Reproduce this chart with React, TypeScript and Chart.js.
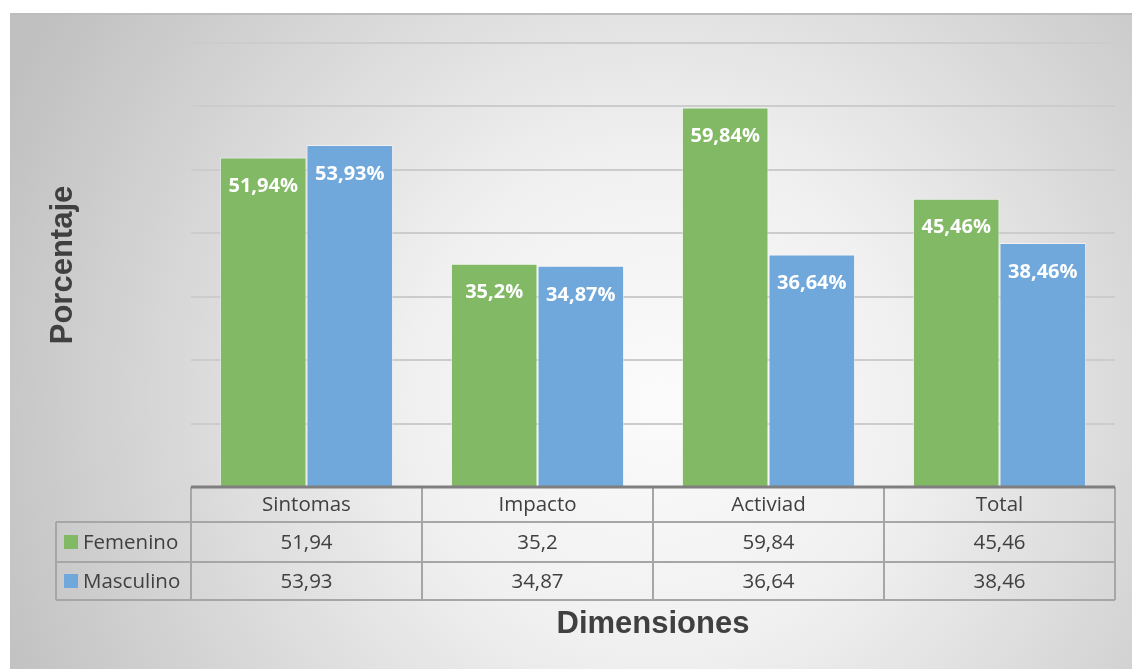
import React, { useEffect, useRef } from "react";
import { Chart, registerables } from "chart.js";

Chart.register(...registerables);

const categories = ["Sintomas", "Impacto", "Activiad", "Total"];
const femenino = [51.94, 35.2, 59.84, 45.46];
const masculino = [53.93, 34.87, 36.64, 38.46];
const seriesNames = ["Femenino", "Masculino"];
const tableFemenino = ["51,94", "35,2", "59,84", "45,46"];
const tableMasculino = ["53,93", "34,87", "36,64", "38,46"];
const labelFemenino = ["51,94%", "35,2%", "59,84%", "45,46%"];
const labelMasculino = ["53,93%", "34,87%", "36,64%", "38,46%"];

const GREEN = "#82b964";
const BLUE = "#70a8db";

export default function App() {
  const ref = useRef<HTMLCanvasElement | null>(null);

  useEffect(() => {
    const canvas = ref.current;
    if (!canvas) return;

    const bgPlugin = {
      id: "bg",
      beforeDraw(chart: any) {
        const ctx = chart.ctx;
        const w = chart.width;
        const h = chart.height;
        ctx.save();
        ctx.fillStyle = "#ffffff";
        ctx.fillRect(0, 0, w, h);
        const g = ctx.createRadialGradient(660, 400, 0, 660, 400, 720);
        g.addColorStop(0, "#fbfbfb");
        g.addColorStop(0.35, "#f0f0f0");
        g.addColorStop(1, "#c0c0c0");
        ctx.fillStyle = g;
        ctx.fillRect(10, 13, w - 10, h - 13);
        ctx.strokeStyle = "#bdbdbd";
        ctx.lineWidth = 2;
        ctx.beginPath();
        ctx.moveTo(10, 14);
        ctx.lineTo(w, 14);
        ctx.stroke();
        ctx.restore();
      },
    };

    const labelsPlugin = {
      id: "barLabels",
      afterDatasetsDraw(chart: any) {
        const ctx = chart.ctx;
        ctx.save();
        ctx.fillStyle = "#ffffff";
        ctx.font = "bold 20px 'Open Sans'";
        ctx.textAlign = "center";
        ctx.textBaseline = "middle";
        const lbls = [labelFemenino, labelMasculino];
        chart.data.datasets.forEach((_: any, di: number) => {
          const meta = chart.getDatasetMeta(di);
          meta.data.forEach((el: any, i: number) => {
            ctx.fillText(lbls[di][i], el.x, el.y + 29);
          });
        });
        ctx.restore();
      },
    };

    const tablePlugin = {
      id: "dataTable",
      afterDraw(chart: any) {
        const ctx = chart.ctx;
        const xs = chart.scales.x;
        const area = chart.chartArea;
        const n = categories.length;
        const catW = (area.right - area.left) / n;
        const top = area.bottom;
        const r1 = top + 35;
        const r2 = r1 + 40;
        const r3 = r2 + 38;
        const leftX = 56;
        ctx.save();
        ctx.strokeStyle = "#a6a6a6";
        ctx.lineWidth = 2;
        ctx.beginPath();
        ctx.moveTo(leftX, r1);
        ctx.lineTo(area.right, r1);
        ctx.moveTo(leftX, r2);
        ctx.lineTo(area.right, r2);
        ctx.moveTo(leftX, r3);
        ctx.lineTo(area.right, r3);
        for (let i = 0; i <= n; i++) {
          const x = area.left + i * catW;
          ctx.moveTo(x, top);
          ctx.lineTo(x, r3);
        }
        ctx.moveTo(leftX, r1);
        ctx.lineTo(leftX, r3);
        ctx.stroke();
        ctx.strokeStyle = "#7f7f7f";
        ctx.lineWidth = 3;
        ctx.beginPath();
        ctx.moveTo(area.left, top);
        ctx.lineTo(area.right, top);
        ctx.stroke();

        ctx.fillStyle = "#404040";
        ctx.font = "20.5px 'Open Sans'";
        ctx.textAlign = "center";
        ctx.textBaseline = "middle";
        for (let i = 0; i < n; i++) {
          const cx = xs.getPixelForValue(i);
          ctx.fillText(categories[i], cx, (top + r1) / 2 + 1);
          ctx.fillText(tableFemenino[i], cx, (r1 + r2) / 2 + 1);
          ctx.fillText(tableMasculino[i], cx, (r2 + r3) / 2 + 1);
        }
        ctx.textAlign = "left";
        const rows = [
          [seriesNames[0], GREEN, (r1 + r2) / 2],
          [seriesNames[1], BLUE, (r2 + r3) / 2],
        ] as [string, string, number][];
        rows.forEach(([name, col, cy]) => {
          ctx.fillStyle = col;
          ctx.fillRect(64, cy - 7, 14, 14);
          ctx.fillStyle = "#404040";
          ctx.fillText(name, 83, cy + 1);
        });

        ctx.fillStyle = "#404040";
        ctx.font = "bold 31px 'Liberation Sans'";
        ctx.textAlign = "center";
        ctx.fillText("Dimensiones", 653, 624);
        ctx.save();
        ctx.translate(63, 265);
        ctx.rotate(-Math.PI / 2);
        ctx.font = "bold 31px 'Liberation Sans'";
        ctx.fillText("Porcentaje", 0, 0);
        ctx.restore();
        ctx.restore();
      },
    };

    const chart = new Chart(canvas, {
      type: "bar",
      data: {
        labels: categories,
        datasets: [
          {
            label: seriesNames[0],
            data: femenino,
            backgroundColor: GREEN,
            borderColor: "rgba(255,255,255,0.55)",
            borderWidth: 1,
            barPercentage: 1,
            categoryPercentage: 0.75,
          },
          {
            label: seriesNames[1],
            data: masculino,
            backgroundColor: BLUE,
            borderColor: "rgba(255,255,255,0.55)",
            borderWidth: 1,
            barPercentage: 1,
            categoryPercentage: 0.75,
          },
        ],
      },
      options: {
        responsive: false,
        animation: false,
        layout: { padding: { left: 191, right: 17, top: 43, bottom: 182 } },
        plugins: {
          legend: { display: false },
          tooltip: { enabled: false },
          title: { display: false },
        },
        scales: {
          x: {
            display: false,
            afterFit: (s: any) => {
              s.height = 0;
            },
          },
          y: {
            min: 0,
            max: 70,
            ticks: { display: false, stepSize: 10 },
            grid: { color: "#cccccc", lineWidth: 2, drawTicks: false },
            border: { display: false },
            afterFit: (s: any) => {
              s.width = 0;
            },
          },
        },
      },
      plugins: [bgPlugin, labelsPlugin, tablePlugin],
    });

    return () => chart.destroy();
  }, []);

  return (
    <div style={{ position: "fixed", left: 0, top: 0, width: 1132, height: 669 }}>
      <canvas ref={ref} width={1132} height={669} style={{ display: "block" }} />
    </div>
  );
}
